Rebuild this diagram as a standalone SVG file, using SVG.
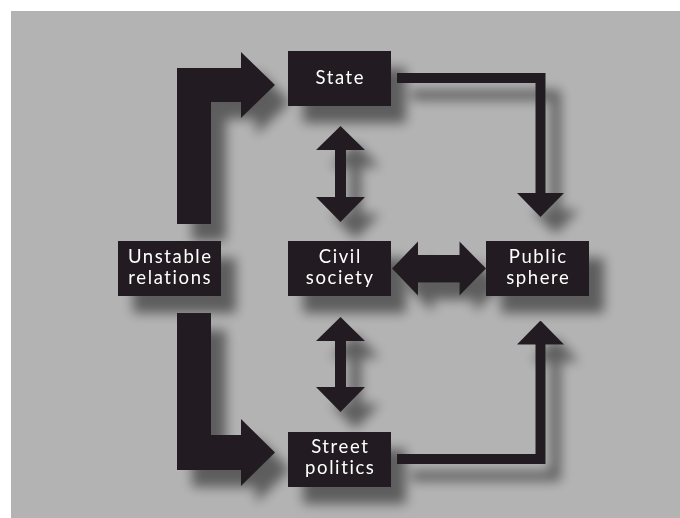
<svg xmlns="http://www.w3.org/2000/svg" width="680" height="518" viewBox="0 0 680 518">
  <style>
    .box { fill: #231f20; }
    .lbl { fill: #ffffff; font-family: Lato, "Open Sans", "Liberation Sans", sans-serif; font-size: 18.5px; letter-spacing: 1.6px; text-anchor: middle; }
    .fat { fill: #231f20; }
    .thin { fill: none; stroke: #231f20; stroke-width: 10; stroke-linejoin: miter; stroke-linecap: butt; marker-end: url(#head); }
  </style>
  <defs>
    <filter id="sh" filterUnits="userSpaceOnUse" x="0" y="0" width="680" height="518">
      <feGaussianBlur in="SourceAlpha" stdDeviation="6"/>
      <feOffset dx="15" dy="17" result="o"/>
      <feComponentTransfer><feFuncA type="linear" slope="0.48"/></feComponentTransfer>
      <feMerge><feMergeNode/><feMergeNode in="SourceGraphic"/></feMerge>
    </filter>
    <marker id="head" markerUnits="userSpaceOnUse" viewBox="0 0 24 47" refX="1" refY="23.5" markerWidth="24" markerHeight="47" orient="auto">
      <path d="M0,0 L24,23.5 L0,47 Z" fill="#231f20"/>
    </marker>
  </defs>
  <rect x="11" y="11" width="669" height="507" fill="#b3b3b3"/>
  <g filter="url(#sh)">
    <g id="connectors">
      <polygon class="fat" points="177,224 177,68 241,68 241,52 275,85 241,118 241,102 211,102 211,224"/>
      <polygon class="fat" points="177,313 211,313 211,435 241,435 241,419 275,452.5 241,486 241,470 177,470"/>
      <polygon class="fat" points="340.5,126 365,150 346,150 346,197 365,197 340.5,222 316,197 335,197 335,150 316,150"/>
      <polygon class="fat" points="340.5,317 365,341 346,341 346,387 365,387 340.5,412 316,387 335,387 335,341 316,341"/>
      <polygon class="fat" points="392,268.5 418,241.5 418,255 459.5,255 459.5,241.5 486,268.5 459.5,295.5 459.5,282.5 418,282.5 418,295.5"/>
      <path class="thin" d="M397,78 H540.5 V194"/>
      <path class="thin" d="M397,459 H540.5 V343.5"/>
    </g>
    <g id="state">
      <rect class="box" x="288" y="51" width="103" height="55"/>
      <text class="lbl" x="340.3" y="83.5">State</text>
    </g>
    <g id="unstable">
      <rect class="box" x="118" y="241" width="103" height="55"/>
      <text class="lbl" x="170.3" y="263.3">Unstable</text>
      <text class="lbl" x="170.3" y="284">relations</text>
    </g>
    <g id="civil">
      <rect class="box" x="288" y="241" width="103" height="55"/>
      <text class="lbl" x="340.3" y="263.3">Civil</text>
      <text class="lbl" x="340.3" y="284">society</text>
    </g>
    <g id="public">
      <rect class="box" x="486" y="241" width="103" height="55"/>
      <text class="lbl" x="538.3" y="263.3">Public</text>
      <text class="lbl" x="538.3" y="284">sphere</text>
    </g>
    <g id="street">
      <rect class="box" x="288" y="432" width="103" height="55"/>
      <text class="lbl" x="340.3" y="453.3">Street</text>
      <text class="lbl" x="340.3" y="474">politics</text>
    </g>
  </g>
</svg>
